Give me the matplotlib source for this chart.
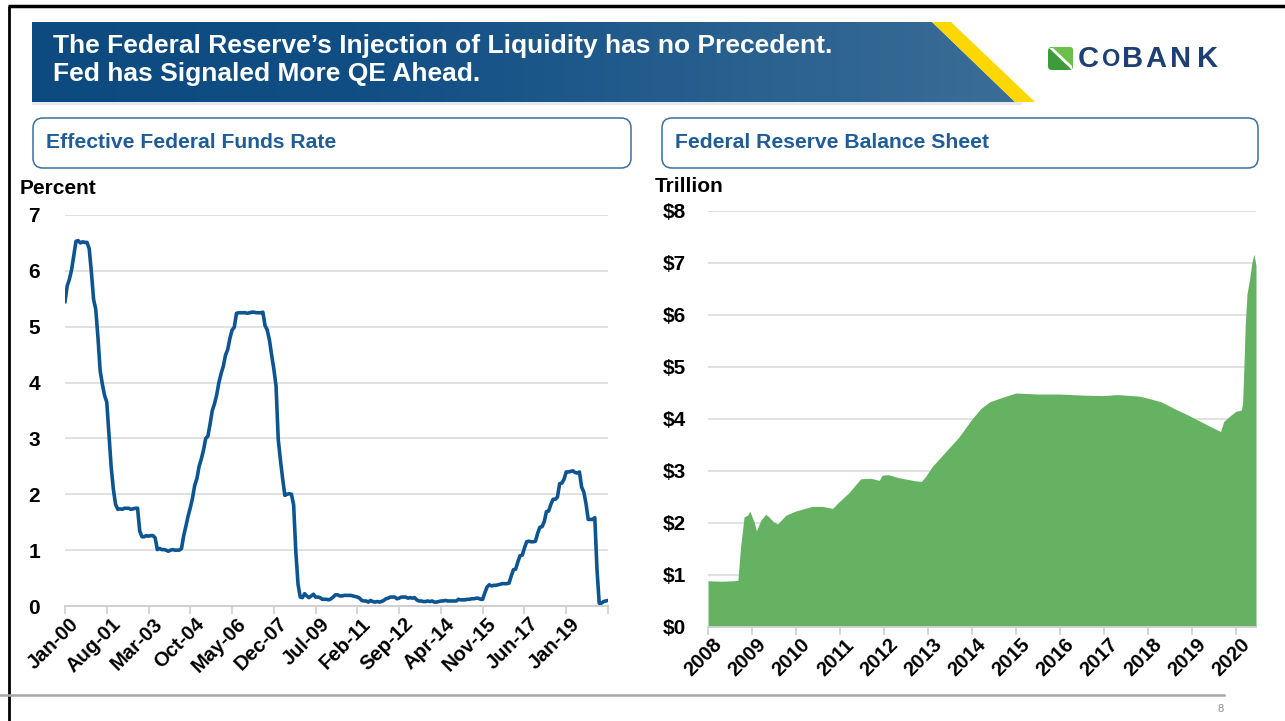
import numpy as np
import matplotlib
matplotlib.use("Agg")
import matplotlib.pyplot as plt
import matplotlib.transforms as mtransforms
from matplotlib.patches import Polygon, FancyBboxPatch, Rectangle

plt.rcParams['font.family'] = ['Liberation Sans', 'DejaVu Sans']

# ---- data ----
title_lines = ["The Federal Reserve\u2019s Injection of Liquidity has no Precedent.",
               "Fed has Signaled More QE Ahead."]
left_title = "Effective Federal Funds Rate"
right_title = "Federal Reserve Balance Sheet"

# effective fed funds rate, monthly from Jan-2000 (percent)
ffr = [5.45, 5.73, 5.85, 6.02, 6.27, 6.53, 6.54, 6.50, 6.52, 6.51, 6.51, 6.40,   # 2000
       5.98, 5.49, 5.31, 4.80, 4.21, 3.97, 3.77, 3.65, 3.07, 2.49, 2.09, 1.82,   # 2001
       1.73, 1.74, 1.73, 1.75, 1.75, 1.75, 1.73, 1.74, 1.75, 1.75, 1.34, 1.24,   # 2002
       1.24, 1.26, 1.25, 1.26, 1.26, 1.22, 1.01, 1.03, 1.01, 1.01, 1.00, 0.98,   # 2003
       1.00, 1.01, 1.00, 1.00, 1.00, 1.03, 1.26, 1.43, 1.61, 1.76, 1.93, 2.16,   # 2004
       2.28, 2.50, 2.63, 2.79, 3.00, 3.04, 3.26, 3.50, 3.62, 3.78, 4.00, 4.16,   # 2005
       4.29, 4.49, 4.59, 4.79, 4.94, 4.99, 5.24, 5.25, 5.25, 5.25, 5.25, 5.24,   # 2006
       5.25, 5.26, 5.26, 5.25, 5.25, 5.25, 5.26, 5.02, 4.94, 4.76, 4.49, 4.24,   # 2007
       3.94, 2.98, 2.61, 2.28, 1.98, 2.00, 2.01, 2.00, 1.81, 0.97, 0.39, 0.16,   # 2008
       0.15, 0.22, 0.18, 0.15, 0.18, 0.21, 0.16, 0.16, 0.15, 0.12, 0.12, 0.12,   # 2009
       0.11, 0.13, 0.16, 0.20, 0.20, 0.18, 0.18, 0.19, 0.19, 0.19, 0.19, 0.18,   # 2010
       0.17, 0.16, 0.14, 0.10, 0.09, 0.09, 0.07, 0.10, 0.08, 0.07, 0.08, 0.07,   # 2011
       0.08, 0.10, 0.13, 0.14, 0.16, 0.16, 0.16, 0.13, 0.14, 0.16, 0.16, 0.16,   # 2012
       0.14, 0.15, 0.14, 0.15, 0.11, 0.09, 0.09, 0.08, 0.08, 0.09, 0.08, 0.09,   # 2013
       0.07, 0.07, 0.08, 0.09, 0.09, 0.10, 0.09, 0.09, 0.09, 0.09, 0.09, 0.12,   # 2014
       0.11, 0.11, 0.11, 0.12, 0.12, 0.13, 0.13, 0.14, 0.14, 0.12, 0.12, 0.24,   # 2015
       0.34, 0.38, 0.36, 0.37, 0.37, 0.38, 0.39, 0.40, 0.40, 0.40, 0.41, 0.54,   # 2016
       0.65, 0.66, 0.79, 0.90, 0.91, 1.04, 1.15, 1.16, 1.15, 1.15, 1.16, 1.30,   # 2017
       1.41, 1.42, 1.51, 1.69, 1.70, 1.82, 1.91, 1.91, 1.95, 2.19, 2.20, 2.27,   # 2018
       2.40, 2.40, 2.41, 2.42, 2.39, 2.38, 2.40, 2.13, 2.04, 1.83, 1.55, 1.55,   # 2019
       1.55, 1.58, 0.65, 0.05, 0.05, 0.08, 0.09, 0.10]                           # 2020
ffr_ticklabels = ['Jan-00', 'Aug-01', 'Mar-03', 'Oct-04', 'May-06', 'Dec-07', 'Jul-09',
                  'Feb-11', 'Sep-12', 'Apr-14', 'Nov-15', 'Jun-17', 'Jan-19']

# fed balance sheet, $ trillion
bs_year = [2008.00, 2008.30, 2008.60, 2008.68, 2008.74, 2008.82, 2008.90, 2008.95, 2009.00,
           2009.05, 2009.10, 2009.20, 2009.31, 2009.38, 2009.48, 2009.58, 2009.77, 2009.99,
           2010.20, 2010.37, 2010.60, 2010.83, 2010.98, 2011.20, 2011.47, 2011.70, 2011.89,
           2011.96, 2012.10, 2012.34, 2012.72, 2012.85, 2012.95, 2013.10, 2013.40, 2013.70,
           2014.00, 2014.20, 2014.40, 2014.70, 2015.00, 2015.50, 2016.00, 2016.50, 2017.00,
           2017.30, 2017.80, 2018.00, 2018.30, 2018.60, 2018.90, 2019.20, 2019.50, 2019.65,
           2019.72, 2019.85, 2020.00, 2020.12, 2020.15, 2020.18, 2020.21, 2020.25, 2020.31,
           2020.36, 2020.41, 2020.455]
bs_value = [0.89, 0.88, 0.89, 0.90, 1.54, 2.12, 2.15, 2.23, 2.12,
            2.02, 1.85, 2.05, 2.17, 2.12, 2.03, 1.98, 2.15, 2.23,
            2.28, 2.32, 2.32, 2.28, 2.41, 2.58, 2.85, 2.86, 2.82,
            2.92, 2.93, 2.87, 2.81, 2.80, 2.90, 3.09, 3.37, 3.65,
            4.00, 4.20, 4.33, 4.42, 4.50, 4.48, 4.48, 4.46, 4.45,
            4.47, 4.44, 4.40, 4.33, 4.20, 4.08, 3.95, 3.82, 3.76,
            3.95, 4.05, 4.15, 4.17, 4.30, 5.00, 5.80, 6.40, 6.70,
            7.00, 7.17, 6.95]
bs_ticks = list(range(2008, 2021))

W, H = 1285, 721
fig = plt.figure(figsize=(W / 100, H / 100), dpi=100)

# ---- slide decoration, in pixel coordinates ----
ax0 = fig.add_axes([0, 0, 1, 1], zorder=0)
ax0.set_xlim(0, W)
ax0.set_ylim(H, 0)
ax0.axis('off')

# frame lines
ax0.plot([8, W], [6, 6], color='black', lw=2.5, solid_capstyle='butt')
ax0.plot([9, 9], [6, H], color='black', lw=2.0, solid_capstyle='butt')
ax0.plot([0, 1224], [695, 695], color='#A8A8A8', lw=1.8)
ax0.text(1221, 709, "8", color='#8C8C8C', fontsize=8, ha='center', va='center')

# banner with gradient
blue_poly = Polygon([(32, 22), (932, 22), (1015, 102), (32, 102)], closed=True,
                    facecolor='none', edgecolor='none')
ax0.add_patch(blue_poly)
grad = np.linspace(0, 1, 256).reshape(1, -1)
cmap = matplotlib.colors.LinearSegmentedColormap.from_list(
    'ban', ['#0D4A80', '#114E84', '#255E8E', '#3B6D96'])
im = ax0.imshow(grad, extent=[32, 1015, 102, 22], cmap=cmap, aspect='auto', zorder=1)
im.set_clip_path(blue_poly)
ax0.add_patch(Polygon([(932, 22), (951, 22), (1035, 102), (1015, 102)], closed=True,
                      facecolor='#FFD700', edgecolor='none', zorder=2))
ax0.add_patch(Rectangle((32, 102), 990, 3, facecolor='#E6E9EE', edgecolor='none', zorder=1))
ax0.set_xlim(0, W)
ax0.set_ylim(H, 0)

ax0.text(53, 46, title_lines[0], color='white', fontsize=19, fontweight='bold',
         va='center', ha='left', zorder=3)
ax0.text(53, 74, title_lines[1], color='white', fontsize=19, fontweight='bold',
         va='center', ha='left', zorder=3)

# CoBank logo
ax0.add_patch(FancyBboxPatch((1048, 47), 25, 23, boxstyle='round,pad=0,rounding_size=4',
                             facecolor='#3E9B3C', edgecolor='none', zorder=3))
ax0.add_patch(Polygon([(1050, 47), (1071, 47), (1073, 49), (1073, 68)], closed=True,
                      facecolor='#6CC04A', edgecolor='none', zorder=4))
ax0.add_patch(Polygon([(1049, 48), (1053, 48), (1072, 66), (1072, 70)], closed=True,
                      facecolor='white', edgecolor='none', zorder=5))
logo = "COBANK"
logo_x = [1078, 1102, 1122, 1145, 1170, 1197]
for ch, lx in zip(logo, logo_x):
    ax0.text(lx, 59, ch, color='#1D3F73', fontsize=21 if ch != 'O' else 17,
             fontweight='bold', va='center', ha='left', zorder=3)

# subtitle boxes
for (bx, bw, txt) in [(33, 598, left_title), (662, 596, right_title)]:
    ax0.add_patch(FancyBboxPatch((bx, 118), bw, 50, boxstyle='round,pad=0,rounding_size=10',
                                 facecolor='white', edgecolor='#3A6F9F', lw=1.1, zorder=2))
    ax0.text(bx + 13, 143, txt, color='#1F5D99', fontsize=15.2, fontweight='bold',
             va='center', ha='left', zorder=3)

ax0.text(20, 188, "Percent", fontsize=15, fontweight='bold', va='center', ha='left')
ax0.text(655, 186, "Trillion", fontsize=15, fontweight='bold', va='center', ha='left')


def style_axis(ax):
    ax.set_facecolor('none')
    for s in ['top', 'right', 'left']:
        ax.spines[s].set_visible(False)
    ax.spines['bottom'].set_color('#D0D0D0')
    ax.spines['bottom'].set_linewidth(1.4)
    ax.grid(axis='y', color='#D9D9D9', lw=1.1)
    ax.set_axisbelow(True)
    ax.tick_params(axis='y', length=0, labelsize=15)
    ax.tick_params(axis='x', length=6, color='#D0D0D0', width=1.2, labelsize=14.5)
    shift = mtransforms.ScaledTranslation(4 / 100, 5 / 100, fig.dpi_scale_trans)
    for lab in ax.get_xticklabels():
        lab.set_fontweight('bold')
        lab.set_transform(lab.get_transform() + shift)
    for lab in ax.get_yticklabels():
        lab.set_fontweight('bold')


# ---- left chart: fed funds ----
axL = fig.add_axes([65 / W, 1 - 606 / H, 543 / W, (606 - 215) / H], zorder=2)
months = np.arange(len(ffr))
axL.plot(months, ffr, color='#0D5592', lw=2.6, solid_joinstyle='round')
axL.set_xlim(0, 247)
axL.set_ylim(0, 7)
axL.set_yticks(range(0, 8))
axL.set_xticks(list(range(0, 229, 19)) + [247])
axL.set_xticklabels(ffr_ticklabels + [''], rotation=45, ha='right', va='top',
                    rotation_mode='anchor')
axL.tick_params(axis='y', pad=18)
style_axis(axL)

# ---- right chart: balance sheet ----
axR = fig.add_axes([708 / W, 1 - 627 / H, 548 / W, (627 - 211) / H], zorder=2)
axR.fill_between(bs_year, bs_value, 0, color='#66B263', lw=0)
axR.set_xlim(2008, 2020.455)
axR.set_ylim(0, 8)
axR.set_yticks(range(0, 9))
axR.set_yticklabels(['$%d' % v for v in range(0, 9)])
axR.set_xticks(bs_ticks)
axR.set_xticklabels([str(y) for y in bs_ticks], rotation=45, ha='right', va='top',
                    rotation_mode='anchor')
axR.tick_params(axis='y', pad=16)
style_axis(axR)

fig.savefig('out.png', dpi=100)
